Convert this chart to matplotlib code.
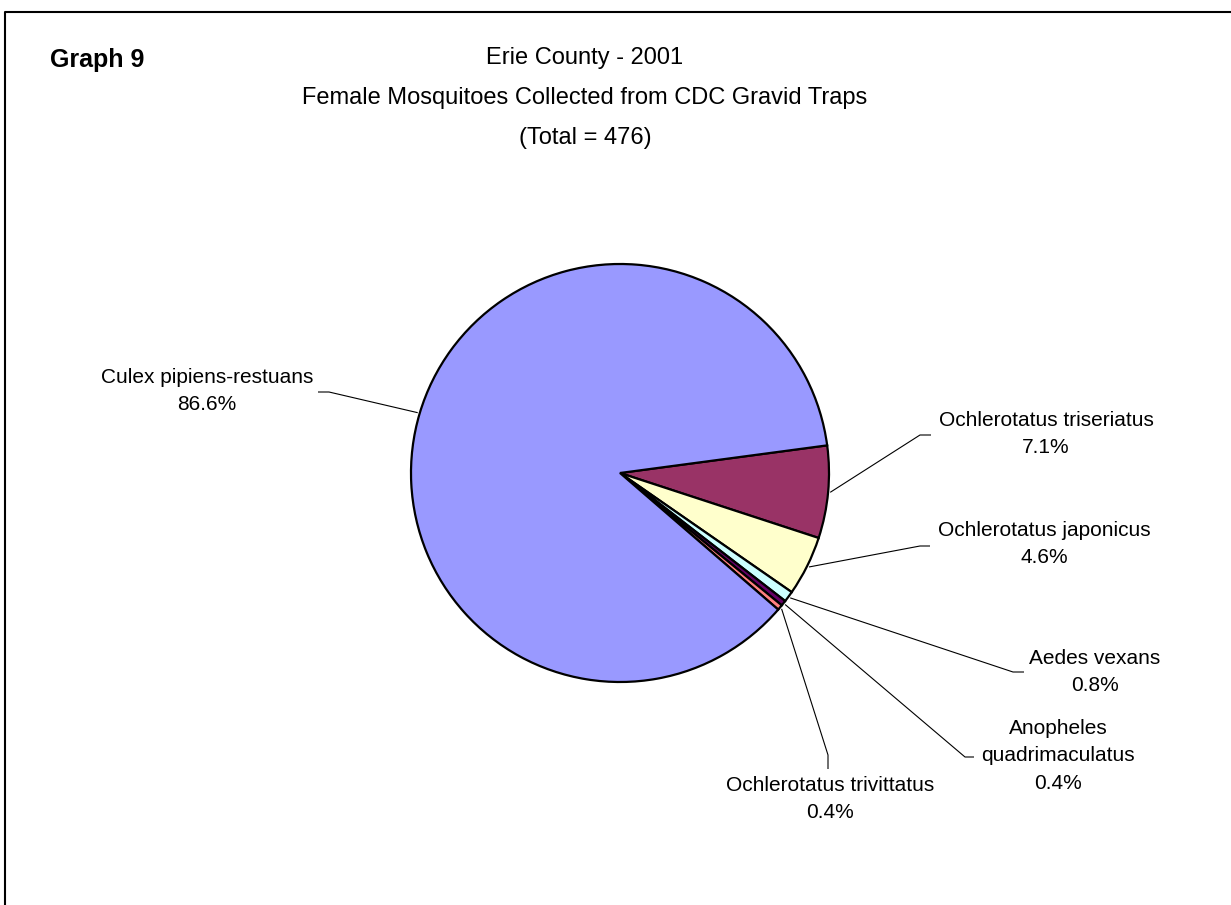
import matplotlib
matplotlib.use("Agg")
import matplotlib.pyplot as plt
import numpy as np

plt.rcParams["font.family"] = ["Liberation Sans", "DejaVu Sans"]

# Erie County 2001, gravid trap catch (female mosquitoes)
species = ["Ochlerotatus triseriatus", "Ochlerotatus japonicus", "Aedes vexans",
           "Anopheles\nquadrimaculatus", "Ochlerotatus trivittatus",
           "Culex pipiens-restuans"]
counts = [34, 22, 4, 2, 2, 412]
colors = ["#993366", "#FFFFCC", "#CCFFFF", "#660066", "#FF8080", "#9999FF"]
total = sum(counts)

W, H = 1231, 905
CX, CY, R = 620, 473, 209

# label layout in pixel coords: text centre, first line y, leader elbow, leader end
label_pos = {
    "Ochlerotatus triseriatus": dict(x=1046, y=420, elbow=(920, 435), end=(931, 435)),
    "Ochlerotatus japonicus": dict(x=1044, y=530, elbow=(920, 546), end=(930, 546)),
    "Aedes vexans": dict(x=1095, y=658, elbow=(1013, 672), end=(1024, 672)),
    "Anopheles\nquadrimaculatus": dict(x=1058, y=728, elbow=(965, 757), end=(974, 757)),
    "Ochlerotatus trivittatus": dict(x=830, y=785, elbow=(828, 755), end=(828, 769)),
    "Culex pipiens-restuans": dict(x=207, y=377, elbow=(329, 392), end=(318, 392)),
}
LINE_H = 27.5

fig = plt.figure(figsize=(W / 100, H / 100), dpi=100)
ax = fig.add_axes([0, 0, 1, 1])

# y axis runs downward, so screen-clockwise is data-counterclockwise
wedges, _ = ax.pie(counts, colors=colors, center=(CX, CY), radius=R,
                   startangle=-7.6, counterclock=True,
                   wedgeprops=dict(edgecolor="black", linewidth=1.6))
ax.set_xlim(0, W)
ax.set_ylim(H, 0)
ax.set_aspect("auto")
ax.axis("off")

for w, name, n in zip(wedges, species, counts):
    pos = label_pos[name]
    mid = np.deg2rad((w.theta1 + w.theta2) / 2)
    ex, ey = CX + R * 1.01 * np.cos(mid), CY + R * 1.01 * np.sin(mid)
    ax.plot([ex, pos["elbow"][0], pos["end"][0]],
            [ey, pos["elbow"][1], pos["end"][1]],
            color="black", lw=0.8, solid_capstyle="butt")
    lines = name.split("\n") + [f"{100 * n / total:.1f}%"]
    for k, s in enumerate(lines):
        ax.text(pos["x"], pos["y"] + k * LINE_H, s, ha="center", va="center",
                fontsize=15, color="black")

# titles
title_lines = ["Erie County - 2001", "Female Mosquitoes Collected from CDC Gravid Traps",
               f"(Total = {total})"]
for k, s in enumerate(title_lines):
    ax.text(585, 58 + k * 40, s, ha="center", va="center", fontsize=17)
ax.text(50, 60, "Graph 9", ha="left", va="center", fontsize=18, fontweight="bold")

# chart frame (top and left edges visible)
ax.plot([5, 5, W], [H, 12, 12], color="black", lw=1.5)

fig.savefig("out.png", dpi=100)
